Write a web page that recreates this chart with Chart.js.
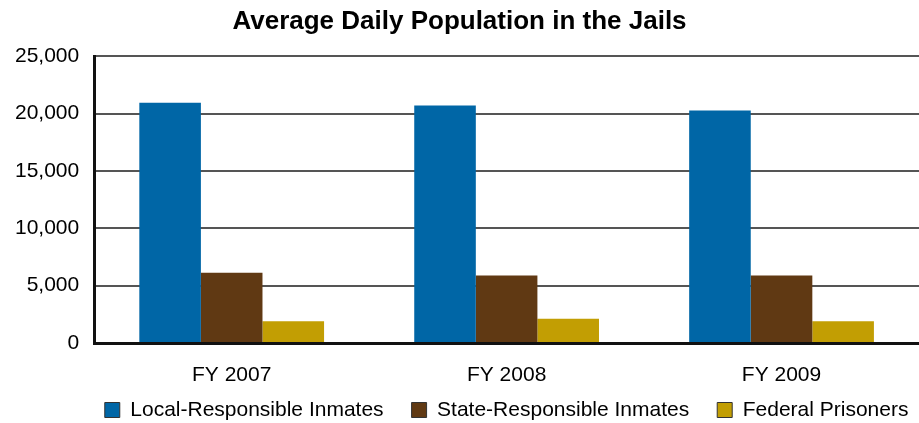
<!DOCTYPE html>
<html>
<head>
<meta charset="utf-8">
<script src="https://cdn.jsdelivr.net/npm/chart.js@4/dist/chart.umd.min.js"></script>
<style>
html,body{margin:0;padding:0;background:#fff;}
#wrap{width:919px;height:423px;}
</style>
</head>
<body>
<div id="wrap"><canvas id="c" width="919" height="423"></canvas></div>
<script>
const categories = ["FY 2007", "FY 2008", "FY 2009"];
const seriesNames = ["Local-Responsible Inmates", "State-Responsible Inmates", "Federal Prisoners"];
const localResponsible = [20950, 20700, 20270];
const stateResponsible = [6130, 5880, 5880];
const federalPrisoners = [1890, 2120, 1890];
const yTicks = [0, 5000, 10000, 15000, 20000, 25000];
const colors = ["#0066A6", "#603913", "#C29E03"];

const seriesValues = [localResponsible, stateResponsible, federalPrisoners];
const font = "'Liberation Sans', Arial, sans-serif";
const LEGEND_PAD = 28;
const LEGEND_FONT = 21;
const LEGEND_CENTER_Y = 410;

const legendPlacer = {
  id: 'legendPlacer',
  afterLayout(chart) {
    const lg = chart.legend, ca = chart.chartArea;
    if (!lg) return;
    const dx = (ca.left + ca.right) / 2 - (lg.left + lg.right) / 2;
    lg.left += dx; lg.right += dx;
    const h = LEGEND_FONT + LEGEND_PAD + 10;
    lg.top = LEGEND_CENTER_Y - LEGEND_PAD - LEGEND_FONT / 2;
    lg.bottom = lg.top + h;
    lg.height = h;
  }
};

new Chart(document.getElementById('c'), {
  type: 'bar',
  data: {
    labels: categories,
    datasets: seriesNames.map((n, i) => ({
      label: n,
      data: seriesValues[i],
      backgroundColor: colors[i],
      borderWidth: 0,
      categoryPercentage: 0.672,
      barPercentage: 1.0
    }))
  },
  plugins: [legendPlacer],
  options: {
    responsive: false,
    animation: false,
    devicePixelRatio: 1,
    layout: { padding: { left: 0, right: 0, top: 0, bottom: -24 } },
    plugins: {
      title: {
        display: true,
        text: "Average Daily Population in the Jails",
        color: '#000',
        font: { family: font, size: 26, weight: 'bold' },
        padding: { top: 6, bottom: 19 }
      },
      legend: {
        position: 'bottom',
        fullSize: true,
        labels: {
          color: '#000',
          font: { family: font, size: LEGEND_FONT },
          boxWidth: 15,
          boxHeight: 15,
          padding: LEGEND_PAD,
          generateLabels(chart) {
            const items = Chart.defaults.plugins.legend.labels.generateLabels(chart);
            items.forEach(it => { it.lineWidth = 1; it.strokeStyle = '#333'; });
            return items;
          }
        }
      },
      tooltip: { enabled: false }
    },
    scales: {
      x: {
        grid: { display: false, drawTicks: false },
        border: { display: true, color: '#111', width: 3 },
        ticks: { color: '#000', font: { family: font, size: 21 }, padding: 20 },
        afterFit(axis) { axis.height = 45; }
      },
      y: {
        min: 0,
        max: 25000,
        afterBuildTicks(axis) { axis.ticks = yTicks.map(v => ({ value: v })); },
        grid: { color: '#555', lineWidth: 2, drawTicks: false },
        border: { display: true, color: '#111', width: 3 },
        ticks: {
          color: '#000',
          font: { family: font, size: 21 },
          padding: 15,
          callback: v => v.toLocaleString('en-US')
        }
      }
    }
  }
});
</script>
</body>
</html>
